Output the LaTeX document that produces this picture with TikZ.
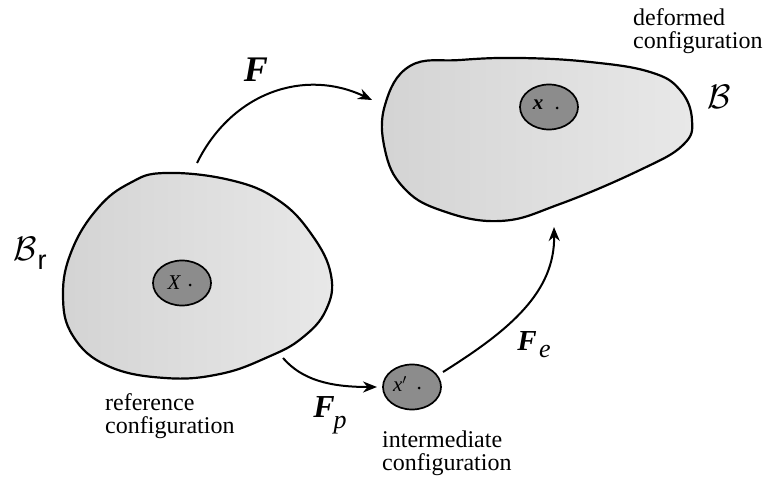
\documentclass[tikz,border=0pt]{standalone}
\usepackage{fontspec}
\setmainfont{Liberation Serif}
\setsansfont{Liberation Sans}
\usetikzlibrary{arrows.meta,shapes.geometric}
\newcommand{\bigB}{{\fontsize{10}{10}\selectfont\scalebox{3.4}{$\mathcal{B}$}}}
\tikzset{
  body/.style={draw=black, line width=2.2pt, left color=black!17, right color=black!9},
  pointbody/.style={ellipse, draw=black, line width=1.7pt, fill=black!45, minimum width=58pt, minimum height=45pt, inner sep=0pt},
  pt/.style={circle, fill=black, inner sep=0pt, minimum size=3pt},
  maplabel/.style={inner sep=0pt, font=\rmfamily\bfseries\itshape},
  sublabel/.style={inner sep=0pt, font=\fontsize{26}{26}\selectfont\rmfamily\itshape},
  caption/.style={inner sep=0pt, anchor=north west, align=left, font=\fontsize{24}{23}\selectfont\rmfamily},
  ptlabel/.style={inner sep=0pt, font=\fontsize{21}{21}\selectfont\rmfamily\itshape},
  bodylabel/.style={inner sep=0pt},
  maparrow/.style={line width=2pt, -{Stealth[length=14pt,width=11pt]}}
}
\begin{document}
\begin{tikzpicture}[x=1pt,y=-1pt]
\useasboundingbox (0,0) rectangle (770,478);
% reference body
\draw[body] plot[smooth cycle, tension=0.7] coordinates {
  (165,173) (230,180) (278,200) (312,235) (331,275) (326,310) (302,338)
  (268,357) (220,374) (165,378) (108,366) (73,336) (63,295) (72,250) (98,208) (130,183)};
% deformed body
\draw[body] plot[smooth cycle, tension=0.7] coordinates {
  (410,66) (460,60) (520,58) (590,62) (650,72) (680,90) (692,120) (683,145)
  (640,170) (560,204) (500,221) (440,210) (403,187) (385,150) (385,105)};
% point neighbourhoods
\node[pointbody] (X) at (182,283) {};
\node[pointbody] (x) at (549,107) {};
\node[pointbody] (xi) at (412,387) {};
\node[ptlabel] (Xl) at (174,283) {X};
\node[pt] (Xd) at (190,285) {};
\node[ptlabel] (xl) at (538,105) {\bfseries x};
\node[pt] (xd) at (557,108) {};
\node[ptlabel] (xil) at (400,384) {x$'$};
\node[pt] (xid) at (419,388) {};
% body labels
\node[bodylabel] (Br) at (25,249) {\bigB};
\node[bodylabel, font=\fontsize{27}{27}\selectfont\sffamily] (r) at (42,262) {r};
\node[bodylabel] (B) at (719,97) {\bigB};
% captions
\node[caption] (def) at (633,8) {deformed\\configuration};
\node[caption] (ref) at (105,393) {reference\\configuration};
\node[caption] (int) at (382,431) {intermediate\\configuration};
% arrows
\coordinate (Fs) at (197,163);
\coordinate (Ft) at (372,100);
\draw[maparrow] (Fs) .. controls (232,92) and (305,68) .. (Ft);
\coordinate (Ps) at (283,358);
\coordinate (Pt) at (377,387);
\draw[maparrow] (Ps) .. controls (302,380) and (330,387) .. (Pt);
\coordinate (Es) at (443,372);
\coordinate (Et) at (554,227);
\draw[maparrow] (Es) .. controls (510,330) and (555,292) .. (Et);
% map labels
\node[maplabel, font=\fontsize{36}{36}\selectfont\rmfamily\bfseries\itshape] (F) at (256,70) {F};
\node[maplabel, font=\fontsize{32}{32}\selectfont\rmfamily\bfseries\itshape] (Fp) at (324,407) {F};
\node[sublabel] (p) at (340,425) {p};
\node[maplabel, font=\fontsize{29}{29}\selectfont\rmfamily\bfseries\itshape] (Fe) at (527,341) {F};
\node[sublabel] (e) at (545,351) {e};
\end{tikzpicture}
\end{document}
